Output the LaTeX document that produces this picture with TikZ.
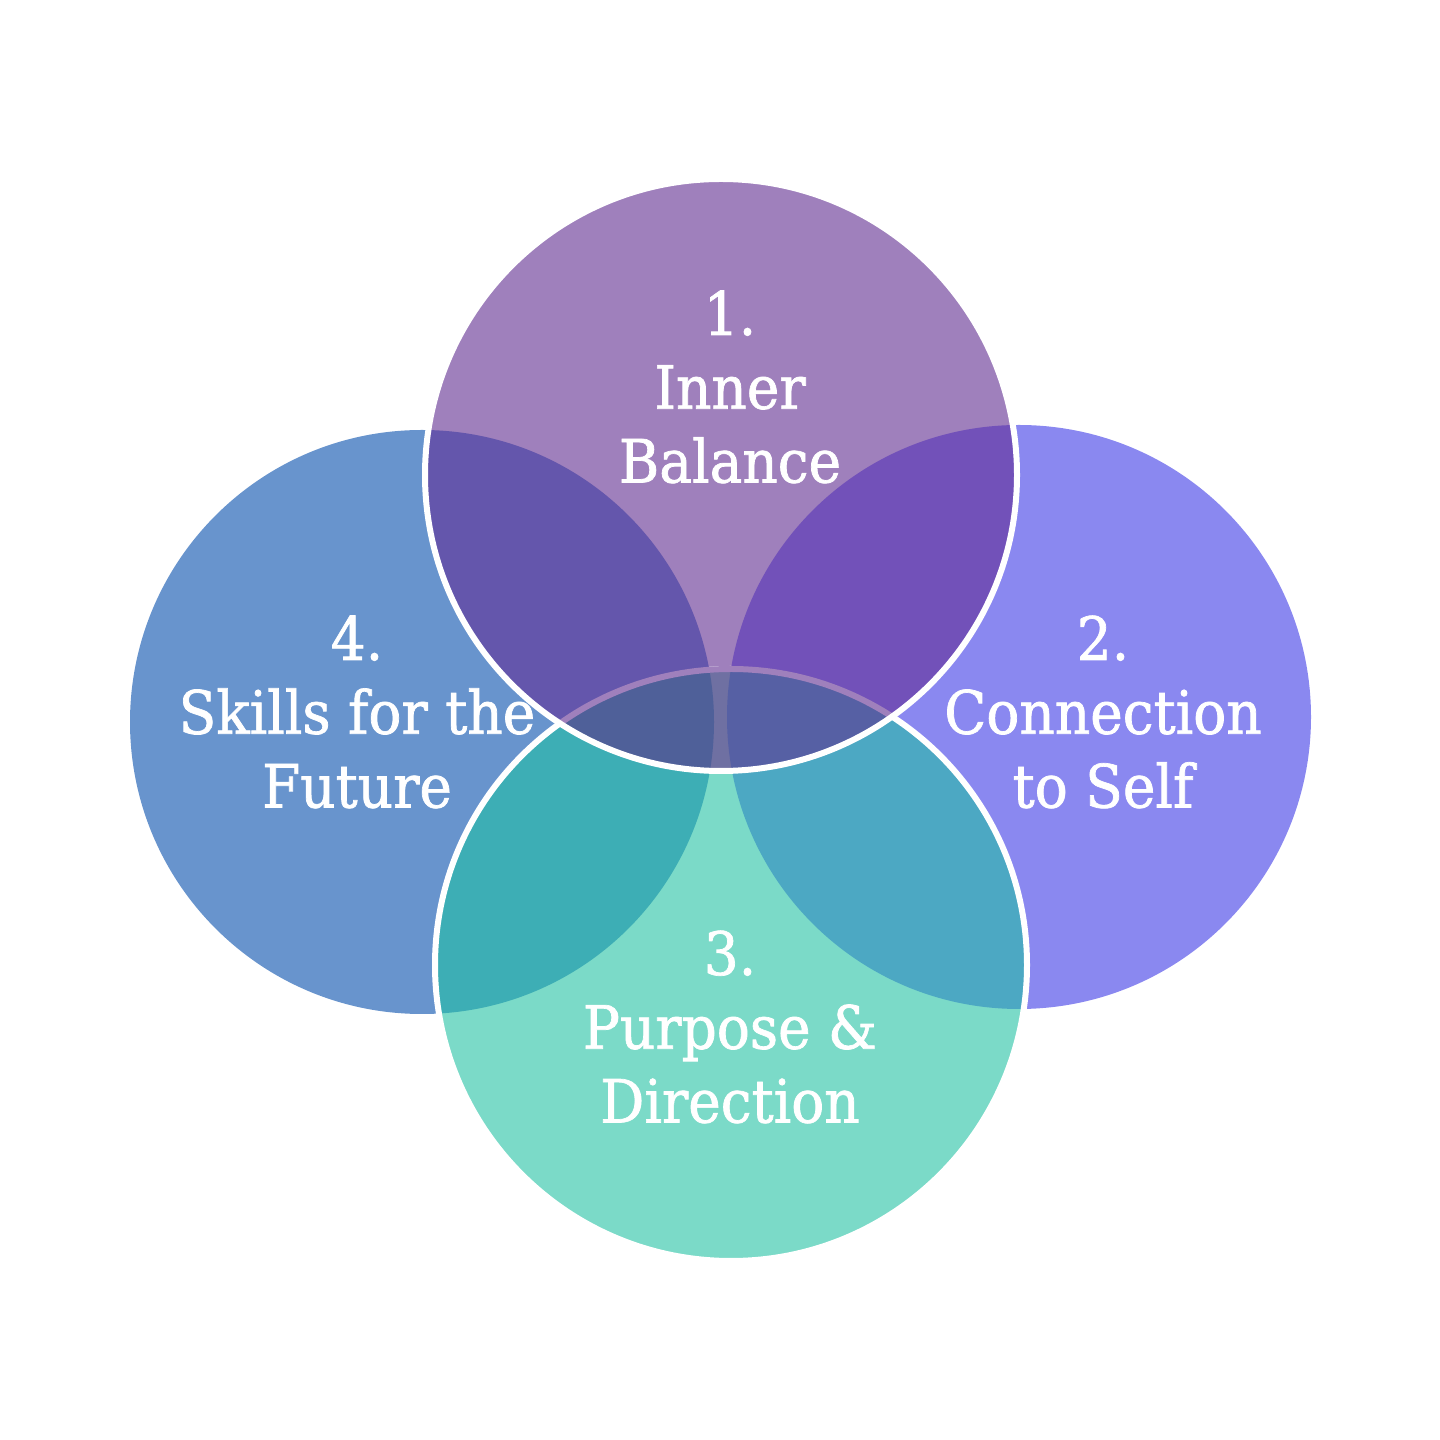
\documentclass[tikz,border=0pt]{standalone}
\usepackage{fontspec}
\setmainfont[FakeStretch=0.92,FakeBold=1.2]{DejaVu Serif}
\usepackage{xcolor}
\usepackage{tikz}
\usetikzlibrary{positioning}

\definecolor{cT}{HTML}{9F80BC}
\definecolor{cR}{HTML}{8A88F0}
\definecolor{cB}{HTML}{7BDAC8}
\definecolor{cL}{HTML}{6894CD}
\definecolor{cTL}{HTML}{6456AC}
\definecolor{cTR}{HTML}{7251B9}
\definecolor{cBL}{HTML}{3DAEB5}
\definecolor{cBR}{HTML}{4CA8C3}
\definecolor{cTB}{HTML}{6F70A2}
\definecolor{cTBL}{HTML}{4F6099}
\definecolor{cTBR}{HTML}{5660A4}

\begin{document}
\begin{tikzpicture}[
    lbl/.style={text=white, align=center, font=\fontsize{17}{21}\selectfont},
    rim/.style={draw=white, line width=0.06cm}
]
    \useasboundingbox (0,0) rectangle (14.4,14.4);
    \def\radv{2.96}
    \def\radh{2.92}

    \coordinate (t) at (7.21,9.65);
    \coordinate (r) at (10.19,7.23);
    \coordinate (b) at (7.31,4.75);
    \coordinate (l) at (4.22,7.18);

    % single circles
    \fill[cL] (l) circle (\radh);
    \fill[cR] (r) circle (\radh);
    \fill[cB] (b) circle (\radv);
    \fill[cT] (t) circle (\radv);

    % overlaps with the bottom circle
    \begin{scope}
        \clip (b) circle (\radv);
        \fill[cBL] (l) circle (\radh);
        \fill[cBR] (r) circle (\radh);
    \end{scope}
    \draw[rim] (b) circle (\radv);

    % overlaps with the top circle
    \begin{scope}
        \clip (t) circle (\radv);
        \fill[cTL] (l) circle (\radh);
        \fill[cTR] (r) circle (\radh);
        \fill[cTB] (b) circle (\radv);
        \begin{scope}
            \clip (b) circle (\radv);
            \fill[cTBL] (l) circle (\radh);
            \fill[cTBR] (r) circle (\radh);
        \end{scope}
        \draw[cT, line width=0.06cm] (b) circle (\radv);
    \end{scope}
    \draw[rim] (t) circle (\radv);

    \node[lbl] (inner) at (7.30,10.53) {1.\\Inner\\Balance};
    \node[lbl] (self) at (11.03,7.28) {2.\\Connection\\to Self};
    \node[lbl] (purpose) at (7.30,4.13) {3.\\Purpose \&\\Direction};
    \node[lbl] (skills) at (3.57,7.28) {4.\\Skills for the\\Future};
\end{tikzpicture}
\end{document}
